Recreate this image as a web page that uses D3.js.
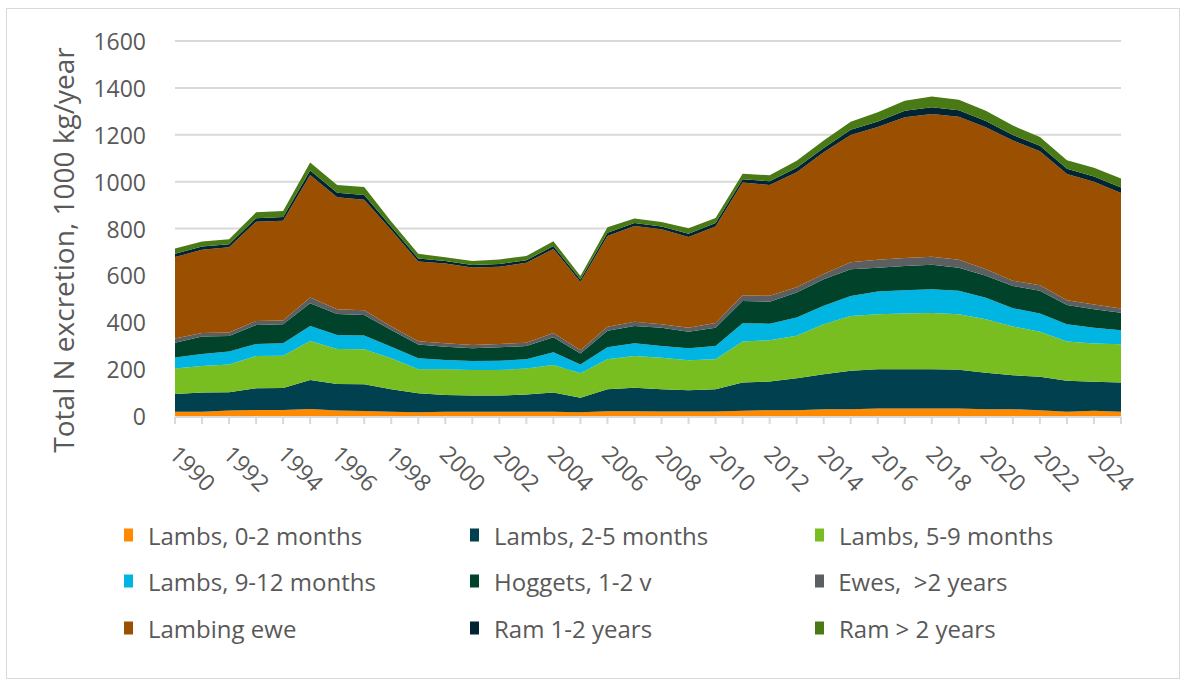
<!DOCTYPE html>
<html>
<head>
<meta charset="utf-8">
<script src="https://cdn.jsdelivr.net/npm/d3@7"></script>
<style>
body{margin:0;background:#fff;}
svg{display:block;font-family:"Open Sans",sans-serif;}
</style>
</head>
<body>
<svg id="chart" width="1185" height="684"></svg>
<script>
/* Data: total N excretion, 1000 kg/year */
const years=d3.range(1990,2026);
const lambs0_2=[18,18,23,26,26,30,23,21,18,16,18,18,18,18,18,16,20,20,19,19,19,22,25,25,29,29,32,32,32,32,29,29,25,18,22,18];
const lambs2_5=[76,82,78,92,94,124,114,114,96,81,72,69,69,74,82,62,94,101,95,91,95,121,122,136,149,164,168,168,168,165,156,145,142,132,124,125];
const lambs5_9=[109,113,119,138,137,166,149,150,132,103,109,109,109,111,118,104,128,135,135,128,128,175,176,181,214,234,234,237,239,237,228,208,193,168,163,163];
const lambs9_12=[47,52,55,51,53,64,60,58,50,46,40,39,40,39,54,38,51,54,50,51,57,78,71,78,78,85,97,100,102,100,92,78,77,74,68,60];
const hoggets=[63,74,66,81,81,97,89,88,71,59,57,54,57,57,64,47,71,74,78,71,78,95,94,107,114,114,102,103,104,99,93,95,97,82,79,75];
const ewes=[18,15,15,17,16,25,20,20,15,14,14,14,14,14,18,14,17,18,15,17,20,24,25,22,22,30,34,34,35,34,28,22,24,20,20,18];
const lambingEwe=[347,355,364,424,426,522,478,472,412,340,341,331,330,341,359,291,387,409,405,387,412,481,473,491,519,543,566,601,609,610,606,598,572,539,523,492];
const ram1_2=[14,14,13,15,16,20,20,20,14,13,10,10,12,11,12,10,14,12,12,14,14,14,16,19,19,22,24,27,28,28,27,24,23,22,23,24];
const ram2=[23,22,21,25,26,34,33,34,22,20,16,17,19,18,21,15,23,20,19,23,22,24,25,30,31,35,39,43,46,44,43,40,37,36,37,38];

const seriesNames=["Lambs, 0-2 months","Lambs, 2-5 months","Lambs, 5-9 months","Lambs, 9-12 months","Hoggets, 1-2 v"," Ewes,  >2 years","Lambing ewe","Ram 1-2 years","Ram > 2 years"];
const seriesValues=[lambs0_2,lambs2_5,lambs5_9,lambs9_12,hoggets,ewes,lambingEwe,ram1_2,ram2];
const colors=["#ff8a00","#00404f","#78be20","#00b5e2","#00432a","#5b5f61","#9a5000","#002433","#4a7a16"];
const yTicks=d3.range(0,1601,200);
const xLabelYears=years.filter(y=>y%2===0);

const svg=d3.select("#chart");
const W=1185,H=684;
const m={left:175,right:1121,top:41,bottom:416};

/* outer frame */
svg.append("rect").attr("x",6.5).attr("y",8.5).attr("width",W-12).attr("height",H-14)
  .attr("fill","#fff").attr("stroke","#d9d9d9").attr("stroke-width",1);

const x=d3.scaleLinear().domain([years[0],years[years.length-1]]).range([m.left,m.right]);
const y=d3.scaleLinear().domain([0,1600]).range([m.bottom,m.top]);

/* gridlines */
svg.append("g").selectAll("line").data(yTicks.filter(t=>t>0)).enter().append("line")
  .attr("x1",m.left).attr("x2",m.right).attr("y1",d=>y(d)).attr("y2",d=>y(d))
  .attr("stroke","#d9d9d9").attr("stroke-width",2);

/* stacked areas */
const rows=years.map((yr,i)=>{const r={year:yr};seriesNames.forEach((n,k)=>r[n]=seriesValues[k][i]);return r;});
const stack=d3.stack().keys(seriesNames)(rows);
const area=d3.area().x(d=>x(d.data.year)).y0(d=>y(d[0])).y1(d=>y(d[1]));
svg.append("g").selectAll("path").data(stack).enter().append("path")
  .attr("d",area).attr("fill",(d,i)=>colors[i]);

/* x axis */
const xAxis=svg.append("g");
xAxis.append("line").attr("x1",m.left).attr("x2",m.right).attr("y1",m.bottom+1).attr("y2",m.bottom+1)
  .attr("stroke","#d9d9d9").attr("stroke-width",2);
xAxis.selectAll("line.tick").data(years).enter().append("line").attr("class","tick")
  .attr("x1",d=>x(d)).attr("x2",d=>x(d)).attr("y1",m.bottom+1).attr("y2",m.bottom+8)
  .attr("stroke","#d9d9d9").attr("stroke-width",2);
xAxis.selectAll("text").data(xLabelYears).enter().append("text")
  .attr("transform",d=>`translate(${x(d)+18},468) rotate(45)`)
  .attr("text-anchor","middle").attr("dominant-baseline","central")
  .attr("fill","#595959").style("font-size","23px").text(d=>d);

/* y axis labels */
svg.append("g").selectAll("text").data(yTicks).enter().append("text")
  .attr("x",146).attr("y",d=>y(d)).attr("text-anchor","end").attr("dominant-baseline","central")
  .attr("fill","#595959").style("font-size","23px").text(d=>d);

svg.append("text").attr("transform","translate(63,250) rotate(-90)")
  .attr("text-anchor","middle").attr("dominant-baseline","central")
  .attr("fill","#595959").style("font-size","28px").text("Total N excretion, 1000 kg/year");

/* legend */
const colX=[124,470,815],rowY=[535,581,628];
const leg=svg.append("g").selectAll("g").data(seriesNames).enter().append("g")
  .attr("transform",(d,i)=>`translate(${colX[i%3]},${rowY[Math.floor(i/3)]})`);
leg.append("rect").attr("x",0).attr("y",-6.5).attr("width",9).attr("height",13).attr("fill",(d,i)=>colors[i]);
leg.append("text").attr("x",d=>d.startsWith(" ")?17:24).attr("y",0).attr("dominant-baseline","central")
  .attr("fill","#595959").style("font-size","24px").style("white-space","pre").text(d=>d);
</script>
</body>
</html>
